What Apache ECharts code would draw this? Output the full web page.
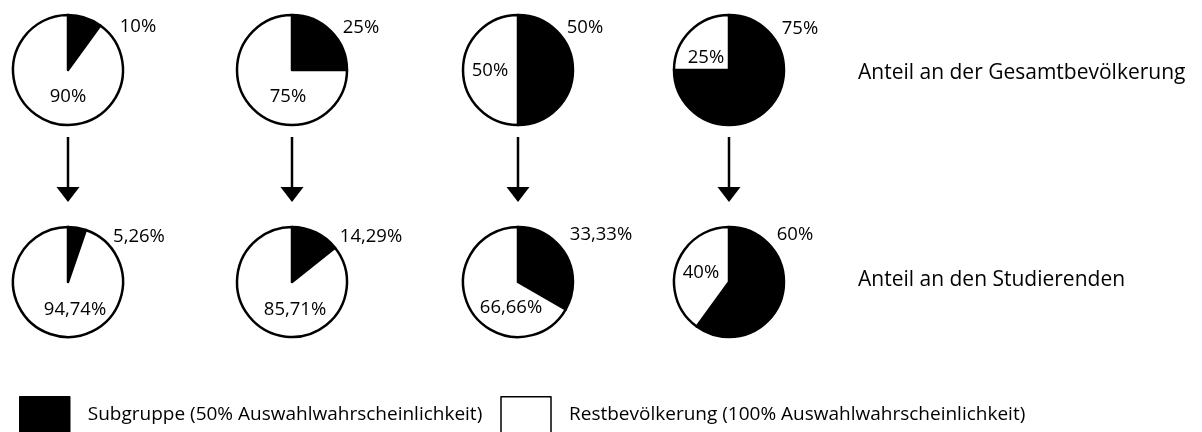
<!DOCTYPE html>
<html>
<head>
<meta charset="utf-8">
<script src="https://cdn.jsdelivr.net/npm/echarts@6/dist/echarts.min.js"></script>
<style>
  html, body { margin: 0; padding: 0; background: #fff; }
  #chart { width: 1202px; height: 432px; }
</style>
</head>
<body>
<div id="chart"></div>
<script>
// Share of the subgroup (selected with 50% probability) in each scenario
const groupNames = ['Subgruppe (50% Auswahlwahrscheinlichkeit)', 'Restbevölkerung (100% Auswahlwahrscheinlichkeit)'];
const populationSubgroup = [10, 25, 50, 75];
const populationRest = [90, 75, 50, 25];
const populationLabels = [['10%', '90%'], ['25%', '75%'], ['50%', '50%'], ['75%', '25%']];
const studentSubgroup = [5.26, 14.29, 33.33, 60];
const studentRest = [94.74, 85.71, 66.66, 40];
const studentLabels = [['5,26%', '94,74%'], ['14,29%', '85,71%'], ['33,33%', '66,66%'], ['60%', '40%']];
const rowTitles = ['Anteil an der Gesamtbevölkerung', 'Anteil an den Studierenden'];

// Layout
const colX = [68, 292, 518, 729];
const rowY = [70, 282];
const radius = 55;
// label centre offsets from pie centre: [subgroup, rest]
const labelOffsets = [
  [[[70, -43], [0, 27]], [[69, -42], [-4, 27]], [[67, -42], [-28, 1]], [[71, -41], [-23, -12]]],
  [[[71, -45], [7, 28]], [[79, -45], [3, 28]], [[83, -47], [-7, 26]], [[66, -47], [-28, -9]]]
];

const labelFont = 'Open Sans';

function pieSeries(row, col, sub, rest, labels) {
  const cx = colX[col], cy = rowY[row];
  const offs = labelOffsets[row][col];
  return {
    type: 'pie',
    silent: true,
    center: [cx, cy],
    radius: [0, radius],
    startAngle: 90,
    clockwise: true,
    avoidLabelOverlap: false,
    itemStyle: { borderColor: '#000', borderWidth: 2.5 },
    label: {
      show: true,
      position: 'inside',
      color: '#000',
      fontFamily: labelFont,
      fontSize: 18.5,
      formatter: p => labels[p.dataIndex]
    },
    labelLine: { show: false },
    labelLayout: p => ({
      x: cx + offs[p.dataIndex][0],
      y: cy + offs[p.dataIndex][1],
      align: 'center',
      verticalAlign: 'middle'
    }),
    data: [
      { name: groupNames[0], value: sub, itemStyle: { color: '#000' } },
      { name: groupNames[1], value: rest, itemStyle: { color: '#fff' } }
    ]
  };
}

const series = [];
for (let i = 0; i < 4; i++) {
  series.push(pieSeries(0, i, populationSubgroup[i], populationRest[i], populationLabels[i]));
  series.push(pieSeries(1, i, studentSubgroup[i], studentRest[i], studentLabels[i]));
}

// Downward arrows between the two rows
const graphics = [];
colX.forEach(x => {
  graphics.push({
    type: 'line', silent: true,
    shape: { x1: x, y1: 137, x2: x, y2: 190 },
    style: { stroke: '#000', lineWidth: 2.5 }
  });
  graphics.push({
    type: 'polygon', silent: true,
    shape: { points: [[x - 11.5, 187], [x + 11.5, 187], [x, 202]] },
    style: { fill: '#000' }
  });
});
// Row captions on the right
rowTitles.forEach((t, i) => {
  graphics.push({
    type: 'text', silent: true,
    x: 858, y: [73, 280][i],
    style: { text: t, font: '21px "Open Sans"', fill: '#000', verticalAlign: 'middle', align: 'left' }
  });
});

const chart = echarts.init(document.getElementById('chart'), null, { renderer: 'canvas' });
chart.setOption({
  animation: false,
  backgroundColor: '#fff',
  legend: {
    left: 19,
    top: 396,
    padding: 0,
    itemWidth: 50,
    itemHeight: 36,
    itemGap: 18,
    icon: 'rect',
    selectedMode: false,
    data: groupNames,
    itemStyle: { borderColor: '#000', borderWidth: 1.5 },
    textStyle: {
      fontFamily: labelFont,
      fontSize: 19,
      color: '#000',
      padding: [6, 0, 0, 13]
    }
  },
  series: series,
  graphic: graphics
});
</script>
</body>
</html>
